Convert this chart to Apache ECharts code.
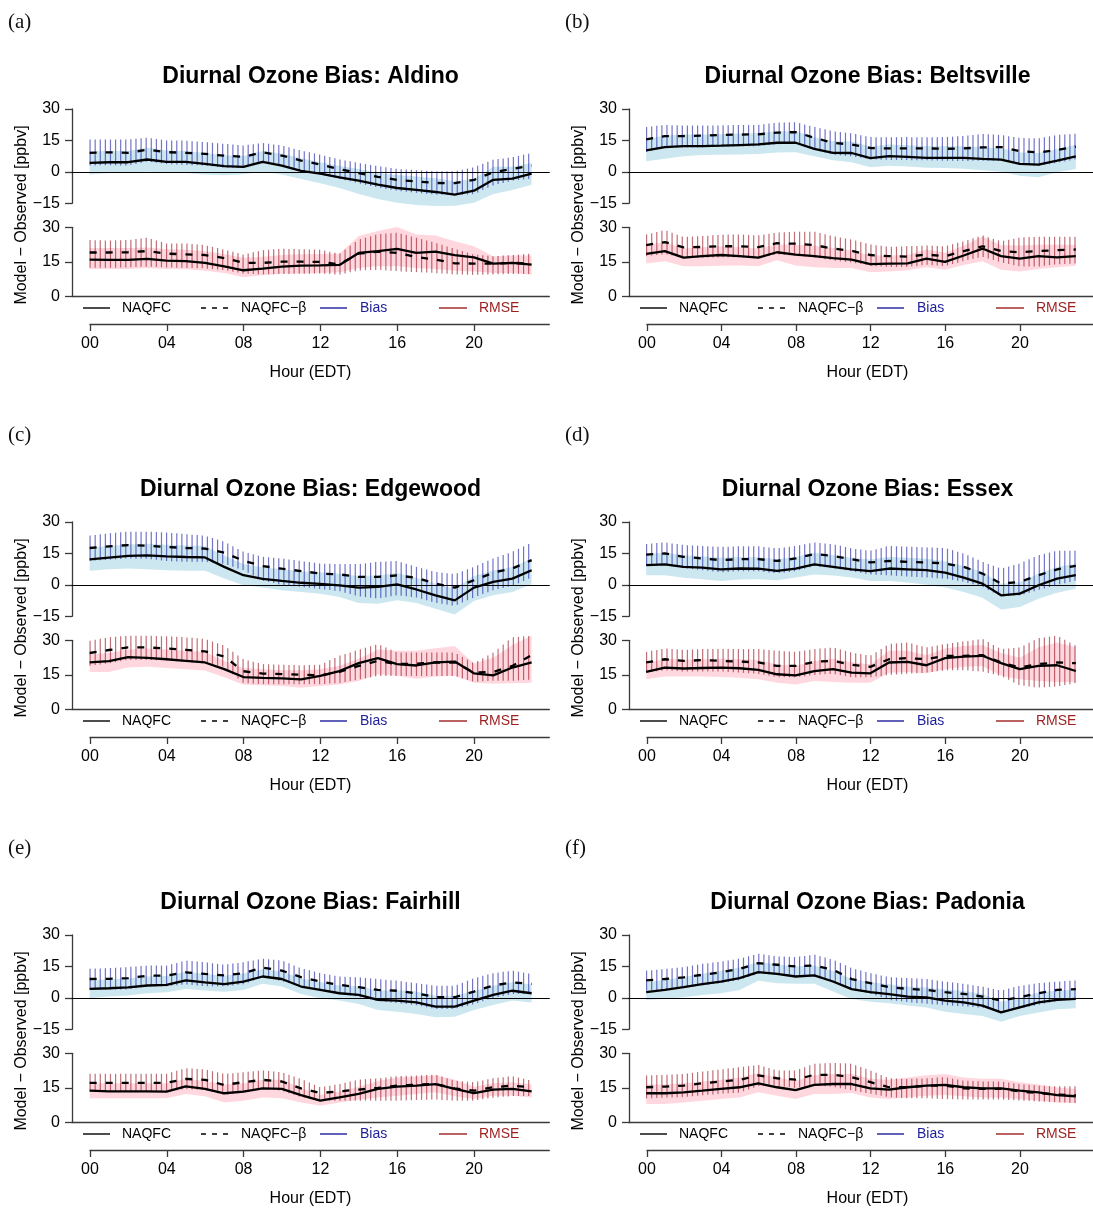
<!DOCTYPE html>
<html>
<head>
<meta charset="utf-8">
<script src="https://cdn.jsdelivr.net/npm/echarts@6/dist/echarts.min.js"></script>
<style>
  html, body { margin: 0; padding: 0; background: #fff; }
  #chart { width: 1093px; height: 1209px; }
</style>
</head>
<body>
<div id="chart"></div>
<script>
// Hour of day (EDT)
const hours = [0,1,2,3,4,5,6,7,8,9,10,11,12,13,14,15,16,17,18,19,20,21,22,23];
const hourTicks = [0,4,8,12,16,20];
const biasTicks = [-15,0,15,30];
const rmseTicks = [0,15,30];

// ---- Aldino ----
const aldinoBiasNaqfc     = [4.3,4.6,4.6,5.9,4.8,4.8,3.8,2.7,2.4,4.8,3.0,0.5,-0.8,-2.6,-4.2,-6.1,-7.7,-8.6,-9.6,-10.9,-9.0,-3.8,-3.2,-0.8];
const aldinoBiasNaqfcLow  = [-1.3,-0.6,-0.3,0,-0.5,-0.6,-1.3,-1.6,-1.1,0,-1.3,-3.4,-5.4,-7.7,-10.6,-13,-14.7,-15.8,-16.3,-16.2,-14.7,-10.6,-8.6,-6.2];
const aldinoBiasNaqfcHigh = [9.8,10,10,11.5,10.2,10,9,7.9,7.6,10,8.6,6.5,4.6,2.8,1.4,-0.5,-1.5,-2.2,-3.1,-4.5,-3.3,2.4,2.5,4.2];
const aldinoBiasBeta      = [9.1,9.3,9.1,10.6,9.4,9.1,8.6,7.7,7.2,9.3,7.8,5.4,3.5,1.3,-0.6,-2.4,-3.8,-4.6,-5.3,-5.4,-3.8,-0.2,1.4,3.0];
const aldinoBiasBetaLow   = [3,3.2,3,4.9,3.8,3.3,3,2,1.8,4.8,3,0.6,-1.2,-3.3,-5.5,-7.5,-9,-10,-10.9,-11.1,-10.6,-6.4,-4.2,-3.2];
const aldinoBiasBetaHigh  = [15.4,15.4,15.4,16.3,15,14.9,14.2,13.4,12.6,13.8,12.6,10.2,8.2,5.9,4.3,2.7,1.4,0.8,0.3,0.3,2.2,5.8,7,9];
const aldinoRmseNaqfc     = [16,15.9,15.9,16.3,15.6,15.4,14.6,13.1,11.4,12.1,13,13.4,13.5,13.7,18.9,19.7,20.7,18.9,19.5,18,17,14.3,14.6,13.8];
const aldinoRmseNaqfcLow  = [11.9,12,12,12.4,12,11.8,11.2,10.2,8.4,9.2,9.9,10,10.2,10.5,12.4,13.1,13.1,12.4,12,11.2,10.9,10.2,10.2,9.5];
const aldinoRmseNaqfcHigh = [21,21,21,21.3,20.5,20.3,19.6,18.4,16.8,17.2,18,18.3,18.4,18.5,26.2,28.4,30.1,26.9,26.5,24,21.8,17.5,17.8,17.8];
const aldinoRmseBeta      = [19.1,19.1,19.2,19.7,18.6,18.3,18,16.7,14.6,14.6,15.1,15.1,15,14,18.6,19.5,18.9,17.2,16,14.4,14.3,14.3,14.6,14.3];
const aldinoRmseBetaLow   = [12.5,12.5,12.6,13,12.6,12.4,12.2,11.4,10,9.6,9.8,9.9,10,9.5,11.3,11.6,11,10.6,10.2,9.6,9.4,9.6,9.8,9.8];
const aldinoRmseBetaHigh  = [24.5,24.3,24.5,25.5,23,23,22.3,20.4,18.2,20.1,20.7,20.5,20.3,18.6,24.7,27,27.7,25.5,23.3,20.7,18.2,17.5,18,18.6];

// ---- Beltsville ----
const beltsBiasNaqfc     = [10.2,11.8,12.3,12.3,12.5,12.8,13.1,13.9,13.9,11,9.1,9,6.6,7.5,7.2,6.7,6.7,6.7,6.2,5.8,3.8,3.5,5.4,7.4];
const beltsBiasNaqfcLow  = [5.1,6.2,7.4,8,8.2,8.3,8.5,9.2,9.4,7.5,5.6,4.6,2.2,2.9,2.6,2,1.9,1.5,0.8,0,-1.8,-2.6,-0.2,1.4];
const beltsBiasNaqfcHigh = [15.7,17.3,17.8,17.8,18,18.3,18.6,19.4,19.4,16.5,14.6,14.5,12.1,13,12.7,12.2,12.2,12.2,11.7,11.3,9.3,9,10.9,12.9];
const beltsBiasBeta      = [15.5,17.1,17.1,17.3,17.6,17.8,17.9,18.7,19,16.3,13.8,13.1,11.4,11.2,11.2,11.2,11,11.2,11.7,11.8,9.9,9.3,10.4,12];
const beltsBiasBetaLow   = [9.5,11.5,11.7,11.8,12,12.2,12.3,13.2,13.5,10.6,8.2,7.4,6,5.7,5.6,5.5,5.3,5.2,5.3,5.3,3.7,2.8,4.3,6];
const beltsBiasBetaHigh  = [21.4,22.4,22.1,22.1,22.2,22.4,22.4,23.5,23.7,21.5,19.4,18.4,16.6,16.5,16.6,16.5,16.6,17.1,18.1,17.6,16.2,16,17.6,18.2];
const beltsRmseNaqfc     = [18.5,19.7,16.9,17.5,18,17.5,16.9,19.2,18.2,17.5,16.7,16,14.1,14.3,14.4,16.4,15,17.8,20.8,17.5,16.4,17.5,17,17.5];
const beltsRmseNaqfcLow  = [14.3,15.3,13.1,13.1,13.4,13.5,13.1,15.7,13.5,12.7,12.4,12.4,10.5,10.9,11.4,12.7,11.6,13.7,15.3,11.6,10.9,11.9,12.7,13.4];
const beltsRmseNaqfcHigh = [22.5,23.5,20.8,21.4,21.8,21.4,20.8,22.6,22.5,22,21,20,17.8,17.8,18,20.4,19,22,26,22.2,22.1,22.5,22.4,22.3];
const beltsRmseBeta      = [22.3,23.6,21.3,21.5,21.8,21.8,21.4,23.1,22.9,22.3,20.8,19.8,18,17.5,17.3,18.2,17.5,19.7,21.8,19.7,19.2,19.7,20.1,20.4];
const beltsRmseBetaLow   = [17.5,18.4,16.8,16.8,17,17,16.5,18.3,17.7,17,15.6,14.8,13.3,12.8,12.8,13.8,13.2,15.4,17.2,14.8,13,13,14,14.4];
const beltsRmseBetaHigh  = [26.9,28.8,25.8,26.2,26.8,26.9,26.5,27.7,28.1,28.1,26.2,24.7,22.6,21.5,21.8,22.1,21.8,24,26.5,24,25.6,25.9,25.9,25.9];

// ---- Edgewood ----
const edgeBiasNaqfc     = [12.2,13,13.8,14.1,13.6,13.3,13.1,8.6,4.6,2.9,1.9,1,0.5,-0.2,-1.3,-1,0.2,-2.2,-5,-7.4,-1.3,1.4,3,7];
const edgeBiasNaqfcLow  = [6.7,7.5,7.8,7.5,7,6.7,6.7,3,-0.2,-1.3,-2.6,-3.4,-4.2,-5.8,-8.6,-9,-7.4,-8.6,-11.4,-14.1,-7.7,-5,-3.4,0.3];
const edgeBiasNaqfcHigh = [17.7,18.5,19.3,19.6,19.1,18.8,18.6,14,10,8.4,7.4,6.5,6,5.3,4.2,4.5,5.7,3.3,0.5,-1.9,4.2,6.9,8.5,12.5];
const edgeBiasBeta      = [17.6,18.4,19,18.7,18.1,17.6,17.3,15.4,11.5,9,7.7,6.6,5.4,5,3.8,3.8,4.5,3.4,0.6,-1.3,2.2,5.8,7.8,11.8];
const edgeBiasBetaLow   = [11.5,12,12.6,12.4,11.4,11,11,10,7,2,0,-1,-2,-3,-5.5,-6.5,-5,-6,-8.5,-10,-6,-2.5,-0.5,3.5];
const edgeBiasBetaHigh  = [23.5,24.6,25.4,25.4,25,24.2,23.5,20.6,15.8,13.4,12.6,11.4,10.2,9.9,9.9,11,11.4,8.6,6.2,5.1,8.6,12.6,15.8,20.2];
const edgeRmseNaqfc     = [20.4,21,22.7,22.4,21.8,21.1,20.4,17.5,14.1,13.7,13.5,13.1,14.6,16.7,20.1,22.3,19.7,19.1,20.4,20.8,15.7,14.8,18.2,20.4];
const edgeRmseNaqfcLow  = [16.3,16.3,18.2,18.5,18,17.5,16.9,14,10.8,10.5,10.2,9.5,10.2,10.9,12.4,15.3,14.6,13.4,14.3,14.6,11.6,11.2,11.4,11.6];
const edgeRmseNaqfcHigh = [24,24.5,26,26.5,26,25.5,25,21,18,17.5,17,17,17.5,19,22,26,25.5,25.5,26.6,27.5,20,22.5,28,32];
const edgeRmseBeta      = [24.5,25.8,26.9,26.9,26.5,25.9,25.2,23,16.6,15.6,15.4,15.1,14.8,16.3,18.9,21.1,19.7,19.9,20.4,20.4,16,16.3,18.9,23.6];
const edgeRmseBetaLow   = [19,20,21.5,21.5,21.3,20.6,20,18.5,11.5,11,11,11,11,11.5,13,14.5,14.5,14.5,14.5,14.5,12,12.5,12.5,13];
const edgeRmseBetaHigh  = [29.8,31.3,32,32,31.7,31.3,30.6,27.7,21.8,19.7,19.4,19.2,19.4,23.3,25.9,28.4,24.7,24.7,24.7,24.7,20.1,24.7,31.3,32];

// ---- Essex ----
const essexBiasNaqfc     = [9.4,9.8,8.6,8.2,7.4,7.8,7.7,6.7,7.8,9.8,8.6,7.4,6.6,7.8,7.4,7,5.8,3.5,0.6,-5,-4.2,-0.2,3,4.6];
const essexBiasNaqfcLow  = [4.6,4.6,3.4,2.7,1.8,2.6,2.7,2.2,3.5,5,4.5,3.5,1.8,1.8,1.1,0,-1.3,-3.4,-6.1,-11.8,-10.6,-6.6,-3.8,-1.8];
const essexBiasNaqfcHigh = [14.9,15.3,14.1,13.7,12.9,13.3,13.2,12.2,13.3,15.3,14.1,12.9,12.1,13.3,12.9,12.5,11.3,9,6.1,0.5,1.3,5.3,8.5,10.1];
const essexBiasBeta      = [14.4,15,13.4,12.6,11.8,12.3,12.3,11.4,12.6,14.7,13.8,12.2,10.7,11.4,11,10.7,10.2,8.6,5.4,0.6,1.4,4.6,7.4,9.1];
const essexBiasBetaLow   = [9,9.5,8,7,6,6.5,6.5,5.5,6.5,9,8,6.5,5,4.5,4,3.5,3,1.5,-1,-5.5,-5,-2.5,0,2];
const essexBiasBetaHigh  = [19.5,20.3,19,18.6,18.1,18.4,18.4,17.4,18.6,20.2,19.4,17.4,16.3,18.6,18.2,17.9,17.6,15,11,7.8,10.2,14.2,16.3,16.3];
const essexRmseNaqfc     = [16.3,18.2,17.8,18,18.2,17.9,17.2,15.3,14.8,16.7,17.5,16,15.7,20.4,20.7,19.2,22.3,22.9,23.3,20.1,17.5,18.9,19.2,16.7];
const essexRmseNaqfcLow  = [13.1,14.3,14.3,14.3,14.1,13.8,13.1,11.6,10.9,12.4,11.9,11.6,11.6,16,16.3,15.7,17.5,18.6,18.9,14.6,13.1,12.4,11.9,11.9];
const essexRmseNaqfcHigh = [20,22,21.6,21.8,22,21.8,21.5,19.5,19,21,22,20.5,19.5,25.5,25.5,23.5,26.5,27.5,28,24.5,22.5,27,29,27];
const essexRmseBeta      = [20.4,21.8,21.1,21.4,21.1,20.8,20.4,18.9,18.9,20.7,21.1,19.4,18.5,21.8,22.3,21.8,23.3,23.3,23.6,20.4,18.2,19.7,20.4,20.1];
const essexRmseBetaLow   = [16,17,16.5,16.5,16.5,16,15.5,14,14,15,15.5,14,14,15,15.5,16,17,17,16.5,14.5,10.5,9.5,10,11.5];
const essexRmseBetaHigh  = [25,26.5,25.9,26.2,26.2,26.2,26.2,25.5,25,26.2,26.9,24.7,23.3,28.4,29.1,26.9,28.4,29.5,30.6,26.2,26.9,30.9,32,27.7];

// ---- Fairhill ----
const fairBiasNaqfc     = [4.3,4.6,5,5.9,6.2,8.3,7.4,6.6,7.8,10.2,9,5.4,3.8,2.2,1.4,-1,-1.3,-2.2,-4.2,-4.2,-1.3,1.4,3.4,2.2];
const fairBiasNaqfcLow  = [-0.2,0.6,1.1,2.2,2.7,4.2,3.5,2.9,3.8,6.7,5.4,1.8,-0.2,-1.3,-2.9,-5.8,-6.6,-7.7,-9.3,-9,-5.8,-3.4,-1.3,-2.2];
const fairBiasNaqfcHigh = [8.5,8.8,9.2,10.2,10.6,12.5,11.4,10.5,11.6,13.6,12.6,9.2,7.6,5.8,5.5,3.5,3.6,3,1,1,3.3,5.8,7.4,6.4];
const fairBiasBeta      = [9,9.1,9.4,10.6,10.6,12.2,11.4,10.7,11.8,14.4,13,9.9,7.8,6.2,5.1,3.8,3.4,2.2,0.3,0.3,3,5.9,7.4,6.7];
const fairBiasBetaLow   = [4,4,4,5.5,5.5,6.5,5.5,5.5,6.5,10,8,5.5,3.5,2,0.5,-1.5,-2.5,-3.5,-5.3,-5.3,-3,0,1.8,2];
const fairBiasBetaHigh  = [13.9,14.2,14.7,15.4,15.4,17.8,17,15.8,17,18.7,17.8,14.2,11.8,10.2,9.8,9,8.2,7,5.8,5.8,9.4,11.8,13,11.4];
const fairRmseNaqfc     = [13.8,13.5,13.5,13.5,13.4,15.7,14.6,12.7,13.4,14.8,14.6,11.9,9.5,10.9,12.4,14.6,15.6,16,16.7,14.6,12.8,14.3,14.6,13.5];
const fairRmseNaqfcLow  = [10.5,10.5,10.5,10.5,10.5,12.4,11.4,8.7,9.5,10.9,10.5,8.7,7.3,8.7,9.9,10.9,11.6,12.4,13.1,11.4,10.2,11.6,11.6,10.9];
const fairRmseNaqfcHigh = [17,17,17,17,17,19,18,16.5,17,18.5,18.5,15,12,13.5,15.5,18,19.5,20,20.5,18.5,15.5,17,17.5,16.5];
const fairRmseBeta      = [17.2,17.2,17.2,17.2,17.2,18.9,18.5,16.3,17.5,18.5,17.8,14.8,12.8,13.5,14.3,15,16,16.4,16.7,14.8,13.8,15.3,16,15.3];
const fairRmseBetaLow   = [13.5,13.5,13.5,13.5,13.5,14.5,14,12,13,14.5,13.8,11,9.5,9.5,9.5,9.5,9.5,9.8,10,9.5,9.5,10.8,11.5,11.5];
const fairRmseBetaHigh  = [21.1,21.1,21.1,21.1,21.1,23.6,23,21.1,21.8,22.6,21.8,18.9,15.3,16.7,18.6,19.2,20.1,20.4,20.8,18.2,17.5,19.2,20.1,18.2];

// ---- Padonia ----
const padBiasNaqfc     = [2.7,3.8,5.1,6.6,7.8,9.4,12.3,11.4,10.2,10.7,7.8,4.2,2.7,1.8,0.6,0.2,-1.3,-2.2,-3.7,-6.9,-4.5,-2.2,-1,-0.5];
const padBiasNaqfcLow  = [-1,-0.5,0.3,1.4,2.2,3.8,8.2,7,6.7,6.7,3,-0.6,-1.8,-2.6,-3.7,-4.6,-6.6,-7.7,-8.6,-11.4,-8.6,-7,-5.4,-5];
const padBiasNaqfcHigh = [7.5,8.5,10,11.5,12.8,14.5,17,16,15,15.5,12.8,9,7.5,6.5,5.3,5,4,3.3,1.8,-1.8,0,2.6,3.5,4];
const padBiasBeta      = [8.3,9,9.8,11,12.2,13.8,16.6,15.8,15,15.5,13.4,9,7,5.1,4.3,3.8,2.7,1.9,0.6,-1.3,0.3,2.2,3.8,4.2];
const padBiasBetaLow   = [3.5,4,5,6,7,8.5,11.5,11,10,10,8,4,2,-1,-2,-2.8,-3.5,-4,-4.8,-6.3,-5.2,-3.3,-1.5,-0.5];
const padBiasBetaHigh  = [13,13.8,14.7,16.2,17.3,18.7,21.1,19.8,19.5,20.6,18.2,14.2,11.8,9.9,9.4,9,7.8,6.7,5.4,3.5,5.8,7,7.8,8.3];
const padRmseNaqfc     = [12.7,12.7,13.1,13.8,14.6,15.3,17,15.3,14.1,16.3,16.7,16.7,14.8,14.3,15.3,16,16.3,15.3,14.8,14.8,13.8,13.1,11.9,11.4];
const padRmseNaqfcLow  = [8,8,8.7,9.5,10.2,10.9,13.1,11.6,10.2,12.4,12.4,12.8,10.9,10.2,10.9,11.6,11.9,11.4,10.9,10.9,10.2,9.5,8.7,8.4];
const padRmseNaqfcHigh = [16.5,16.5,17,17.8,18.6,19.5,21.5,19.5,18,20.5,21,21,19,18.5,19.5,20.5,21,19.5,19,19,17.5,16.5,15.2,14.5];
const padRmseBeta      = [15.3,15.6,16,17,17.8,18.5,20.4,19.2,18.6,20.7,20.7,19.7,17.5,15.3,15.3,16,16,14.8,14.6,14.6,13.5,12.8,12.1,11.9];
const padRmseBetaLow   = [10.5,10.8,11,11.8,12.5,13,15.8,15.8,15,16,15.5,14,12.5,11,10.5,10.5,10.2,10,10,10,9.5,9.2,8.8,8.5];
const padRmseBetaHigh  = [20.4,20.7,21.1,22.1,23,24,25,22.6,22.6,25.5,25.9,25.5,22.6,19.2,18.9,19.2,19.7,18.2,17.8,17.8,16.7,16,15.7,15.7];

const stations = [
  { tag: '(a)', name: 'Aldino',
    bias: [aldinoBiasNaqfc, aldinoBiasNaqfcLow, aldinoBiasNaqfcHigh, aldinoBiasBeta, aldinoBiasBetaLow, aldinoBiasBetaHigh],
    rmse: [aldinoRmseNaqfc, aldinoRmseNaqfcLow, aldinoRmseNaqfcHigh, aldinoRmseBeta, aldinoRmseBetaLow, aldinoRmseBetaHigh] },
  { tag: '(b)', name: 'Beltsville',
    bias: [beltsBiasNaqfc, beltsBiasNaqfcLow, beltsBiasNaqfcHigh, beltsBiasBeta, beltsBiasBetaLow, beltsBiasBetaHigh],
    rmse: [beltsRmseNaqfc, beltsRmseNaqfcLow, beltsRmseNaqfcHigh, beltsRmseBeta, beltsRmseBetaLow, beltsRmseBetaHigh] },
  { tag: '(c)', name: 'Edgewood',
    bias: [edgeBiasNaqfc, edgeBiasNaqfcLow, edgeBiasNaqfcHigh, edgeBiasBeta, edgeBiasBetaLow, edgeBiasBetaHigh],
    rmse: [edgeRmseNaqfc, edgeRmseNaqfcLow, edgeRmseNaqfcHigh, edgeRmseBeta, edgeRmseBetaLow, edgeRmseBetaHigh] },
  { tag: '(d)', name: 'Essex',
    bias: [essexBiasNaqfc, essexBiasNaqfcLow, essexBiasNaqfcHigh, essexBiasBeta, essexBiasBetaLow, essexBiasBetaHigh],
    rmse: [essexRmseNaqfc, essexRmseNaqfcLow, essexRmseNaqfcHigh, essexRmseBeta, essexRmseBetaLow, essexRmseBetaHigh] },
  { tag: '(e)', name: 'Fairhill',
    bias: [fairBiasNaqfc, fairBiasNaqfcLow, fairBiasNaqfcHigh, fairBiasBeta, fairBiasBetaLow, fairBiasBetaHigh],
    rmse: [fairRmseNaqfc, fairRmseNaqfcLow, fairRmseNaqfcHigh, fairRmseBeta, fairRmseBetaLow, fairRmseBetaHigh] },
  { tag: '(f)', name: 'Padonia',
    bias: [padBiasNaqfc, padBiasNaqfcLow, padBiasNaqfcHigh, padBiasBeta, padBiasBetaLow, padBiasBetaHigh],
    rmse: [padRmseNaqfc, padRmseNaqfcLow, padRmseNaqfcHigh, padRmseBeta, padRmseBetaLow, padRmseBetaHigh] }
];

// ---- styling ----
const FONT = "'Liberation Sans', Arial, Helvetica, sans-serif";
const AXIS_GREY = '#3a3a3a';
const BIAS_TEXT = '#1e1e9c';
const RMSE_TEXT = '#9c1e1e';
const BIAS_FILL = 'rgba(173,216,230,0.62)';
const RMSE_FILL = 'rgba(255,192,203,0.62)';
const BIAS_HATCH = 'rgba(30,30,165,0.62)';
const RMSE_HATCH = 'rgba(150,15,30,0.6)';
const HATCH_STEP = 5.1;

const grids = [], xAxes = [], yAxes = [], series = [], elements = [];
const fmtMinus = v => String(v).replace('-', '\u2212');

// Linear interpolation of a pixel polyline at horizontal position x
function yAt(pts, x) {
  for (let j = 0; j < pts.length - 1; j++) {
    const a = pts[j], b = pts[j + 1];
    if (x >= a[0] && x <= b[0]) {
      const t = b[0] === a[0] ? 0 : (x - a[0]) / (b[0] - a[0]);
      return a[1] + t * (b[1] - a[1]);
    }
  }
  return pts[pts.length - 1][1];
}

// Filled range between low and high
function band(axis, low, high, fill, z) {
  return {
    type: 'custom', xAxisIndex: axis, yAxisIndex: axis, z, silent: true, clip: false,
    data: hours.map((h, i) => [h, low[i], high[i]]),
    encode: { x: 0, y: [1, 2] },
    renderItem(params, api) {
      if (params.dataIndex !== 0) return { type: 'group', children: [] };
      const top = hours.map((h, i) => api.coord([h, high[i]]));
      const bottom = hours.map((h, i) => api.coord([h, low[i]])).reverse();
      return { type: 'polygon', shape: { points: top.concat(bottom) }, style: { fill } };
    }
  };
}

// Range between low and high shaded with vertical hatch lines
function hatchBand(axis, low, high, stroke, z) {
  return {
    type: 'custom', xAxisIndex: axis, yAxisIndex: axis, z, silent: true, clip: false,
    data: hours.map((h, i) => [h, low[i], high[i]]),
    encode: { x: 0, y: [1, 2] },
    renderItem(params, api) {
      if (params.dataIndex !== 0) return { type: 'group', children: [] };
      const top = hours.map((h, i) => api.coord([h, high[i]]));
      const bottom = hours.map((h, i) => api.coord([h, low[i]]));
      const children = [];
      const x0 = top[0][0], x1 = top[top.length - 1][0];
      for (let x = x0 + 0.4; x <= x1; x += HATCH_STEP) {
        children.push({ type: 'line',
          shape: { x1: x, y1: yAt(top, x), x2: x, y2: yAt(bottom, x) },
          style: { stroke, lineWidth: 1.2 } });
      }
      return { type: 'group', children };
    }
  };
}

function curve(axis, values, dashed) {
  return {
    type: 'line', xAxisIndex: axis, yAxisIndex: axis, z: 5, clip: false, silent: true,
    symbol: 'none', showSymbol: false,
    data: hours.map((h, i) => [h, values[i]]),
    lineStyle: { color: '#000', width: 2.3, type: dashed ? [7, 9] : 'solid', cap: 'butt' }
  };
}

stations.forEach((st, p) => {
  const dx = (p % 2) * 557;
  const dy = Math.floor(p / 2) * 413;
  const gU = p * 3, gL = p * 3 + 1, gH = p * 3 + 2;

  grids.push({ left: 72 + dx, top: 109 + dy, width: 477.3, height: 94.3 });
  grids.push({ left: 72 + dx, top: 227.3 + dy, width: 477.3, height: 69.3 });
  grids.push({ left: 90 + dx, top: 323 + dy, width: 459.3, height: 1 });

  const plain = { axisTick: { show: false }, axisLabel: { show: false }, splitLine: { show: false } };
  xAxes.push(Object.assign({ gridIndex: gU, type: 'value', min: -0.92, max: 23.92, z: 4,
    axisLine: { show: true, onZero: true, lineStyle: { color: '#000', width: 1.2 } } }, plain));
  xAxes.push(Object.assign({ gridIndex: gL, type: 'value', min: -0.92, max: 23.92,
    axisLine: { show: true, onZero: false, lineStyle: { color: AXIS_GREY, width: 1.3 } } }, plain));
  xAxes.push({ gridIndex: gH, type: 'value', min: 0, max: 23.92, position: 'bottom',
    axisLine: { show: true, onZero: false, lineStyle: { color: AXIS_GREY, width: 1.3 } },
    axisTick: { show: true, length: 7, customValues: hourTicks, lineStyle: { color: AXIS_GREY, width: 1.3 } },
    axisLabel: { show: true, customValues: hourTicks, margin: 12, fontSize: 16, fontFamily: FONT, color: '#000',
      formatter: v => String(v).padStart(2, '0') },
    splitLine: { show: false } });

  const yCommon = {
    type: 'value',
    axisLine: { show: true, onZero: false, lineStyle: { color: AXIS_GREY, width: 1.3 } },
    axisTick: { show: true, length: 7, lineStyle: { color: AXIS_GREY, width: 1.3 } },
    axisLabel: { fontSize: 16, fontFamily: FONT, color: '#000', margin: 12, formatter: fmtMinus },
    splitLine: { show: false }
  };
  yAxes.push(Object.assign({ gridIndex: gU, min: -15, max: 30, interval: 15 }, yCommon,
    { axisTick: Object.assign({}, yCommon.axisTick, { customValues: biasTicks }),
      axisLabel: Object.assign({}, yCommon.axisLabel, { customValues: biasTicks }) }));
  yAxes.push(Object.assign({ gridIndex: gL, min: 0, max: 30, interval: 15 }, yCommon,
    { axisTick: Object.assign({}, yCommon.axisTick, { customValues: rmseTicks }),
      axisLabel: Object.assign({}, yCommon.axisLabel, { customValues: rmseTicks }) }));
  yAxes.push({ gridIndex: gH, type: 'value', min: 0, max: 1, show: false });

  const [bN, bNlo, bNhi, bB, bBlo, bBhi] = st.bias;
  const [rN, rNlo, rNhi, rB, rBlo, rBhi] = st.rmse;
  series.push(band(gU, bNlo, bNhi, BIAS_FILL, 1));
  series.push(hatchBand(gU, bBlo, bBhi, BIAS_HATCH, 2));
  series.push(curve(gU, bN, false));
  series.push(curve(gU, bB, true));
  series.push(band(gL, rNlo, rNhi, RMSE_FILL, 1));
  series.push(hatchBand(gL, rBlo, rBhi, RMSE_HATCH, 2));
  series.push(curve(gL, rN, false));
  series.push(curve(gL, rB, true));

  // panel tag, title, axis titles
  elements.push({ type: 'text', x: 8 + dx, y: 22 + dy,
    style: { text: st.tag, font: "21px 'Liberation Serif', 'DejaVu Serif', serif", fill: '#111', verticalAlign: 'middle' } });
  elements.push({ type: 'text', x: 310.5 + dx, y: 77 + dy,
    style: { text: 'Diurnal Ozone Bias: ' + st.name, font: 'bold 23px ' + FONT, fill: '#000', align: 'center', verticalAlign: 'middle' } });
  elements.push({ type: 'text', x: 22 + dx, y: 215 + dy, rotation: Math.PI / 2,
    style: { text: 'Model \u2212 Observed [ppbv]', font: '16px ' + FONT, fill: '#000', align: 'center', verticalAlign: 'middle' } });
  elements.push({ type: 'text', x: 310.5 + dx, y: 372.5 + dy,
    style: { text: 'Hour (EDT)', font: '16px ' + FONT, fill: '#000', align: 'center', verticalAlign: 'middle' } });

  // legend row
  const ly = 308 + dy;
  const legend = [
    { x1: 83, x2: 110, stroke: '#000', dash: null, tx: 122, label: 'NAQFC', color: '#000' },
    { x1: 201, x2: 229, stroke: '#000', dash: [5, 6], tx: 241, label: 'NAQFC\u2212\u03b2', color: '#000' },
    { x1: 320, x2: 347, stroke: BIAS_TEXT, dash: null, tx: 360, label: 'Bias', color: BIAS_TEXT },
    { x1: 439, x2: 467, stroke: RMSE_TEXT, dash: null, tx: 479, label: 'RMSE', color: RMSE_TEXT }
  ];
  legend.forEach(it => {
    elements.push({ type: 'line', shape: { x1: it.x1 + dx, y1: ly, x2: it.x2 + dx, y2: ly },
      style: { stroke: it.stroke, lineWidth: 1.4, lineDash: it.dash } });
    elements.push({ type: 'text', x: it.tx + dx, y: ly,
      style: { text: it.label, font: '14px ' + FONT, fill: it.color, verticalAlign: 'middle' } });
  });
});

const chart = echarts.init(document.getElementById('chart'), null, { renderer: 'canvas' });
chart.setOption({
  animation: false,
  backgroundColor: '#fff',
  grid: grids,
  xAxis: xAxes,
  yAxis: yAxes,
  series,
  graphic: { elements }
});
</script>
</body>
</html>
